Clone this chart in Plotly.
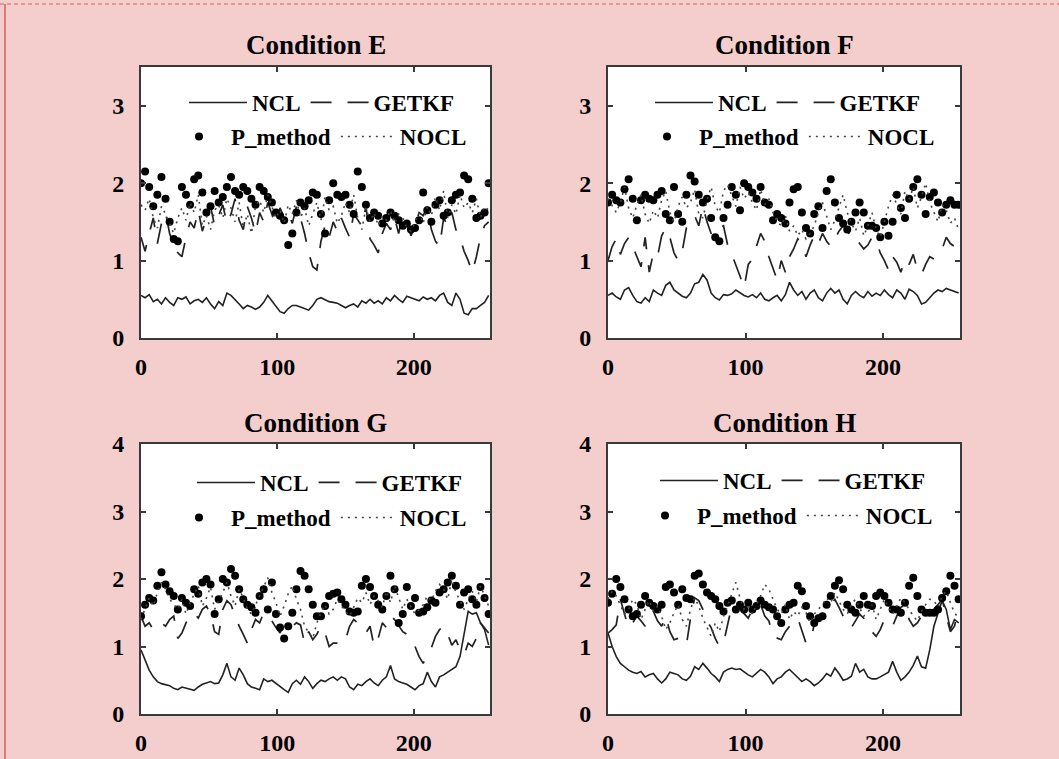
import plotly.graph_objects as go

# ---------------------------------------------------------------------------
# Data: RMSE-type error series, sampled every 3 steps over 0..255
# ---------------------------------------------------------------------------
steps = list(range(0, 256, 3))

# ---- Condition E ----
ncl_e = [0.55, 0.52, 0.56, 0.47, 0.50, 0.44, 0.52, 0.46, 0.42, 0.52,
         0.50, 0.53, 0.44, 0.48, 0.50, 0.46, 0.52, 0.44, 0.38, 0.47,
         0.42, 0.58, 0.55, 0.50, 0.44, 0.38, 0.42, 0.40, 0.37, 0.40,
         0.46, 0.55, 0.48, 0.40, 0.34, 0.32, 0.38, 0.42, 0.42, 0.40,
         0.38, 0.36, 0.42, 0.50, 0.52, 0.49, 0.47, 0.46, 0.45, 0.42,
         0.39, 0.42, 0.44, 0.40, 0.48, 0.45, 0.50, 0.45, 0.48, 0.44,
         0.52, 0.48, 0.55, 0.50, 0.46, 0.54, 0.52, 0.50, 0.48, 0.53,
         0.50, 0.52, 0.48, 0.55, 0.58, 0.46, 0.42, 0.58, 0.50, 0.32,
         0.30, 0.38, 0.38, 0.42, 0.46, 0.55]
getkf_e = [1.30, 1.12, 1.35, 1.55, 1.22, 1.48, 1.62, 1.35, 1.20, 1.10,
           1.05, 1.30, 1.50, 1.42, 1.65, 1.38, 1.55, 1.70, 1.45, 1.58,
           1.72, 1.48, 1.60, 1.80, 1.52, 1.40, 1.70, 1.55, 1.35, 1.62,
           1.50, 1.75, 1.60, 1.45, 1.68, 1.55, 1.62, 1.48, 1.70, 1.55,
           1.35, 1.10, 0.92, 0.88, 1.25, 1.45, 1.30, 1.50, 1.38, 1.55,
           1.42, 1.30, 1.60, 1.52, 1.45, 1.70, 1.28, 1.20, 1.10, 1.35,
           1.48, 1.40, 1.55, 1.35, 1.60, 1.50, 1.32, 1.45, 1.62, 1.58,
           1.70, 1.40, 1.25, 1.18, 1.55, 1.45, 1.62, 1.40, 1.30, 1.12,
           1.00, 0.85, 1.05, 1.30, 1.45, 1.50]
p_method_e = [2.00, 2.15, 1.95, 1.70, 1.85, 2.08, 1.80, 1.50, 1.28, 1.25,
              1.95, 1.85, 1.72, 2.05, 2.10, 1.88, 1.62, 1.70, 1.90, 1.75,
              1.82, 1.95, 2.08, 1.90, 1.85, 1.95, 1.90, 1.80, 1.72, 1.95,
              1.90, 1.82, 1.75, 1.62, 1.58, 1.52, 1.20, 1.35, 1.62, 1.75,
              1.70, 1.78, 1.88, 1.85, 1.60, 1.35, 1.78, 2.00, 1.85, 1.82,
              1.85, 1.72, 1.60, 2.15, 1.95, 1.72, 1.55, 1.62, 1.58, 1.48,
              1.55, 1.62, 1.58, 1.52, 1.45, 1.48, 1.40, 1.42, 1.52, 1.88,
              1.65, 1.50, 1.72, 1.78, 1.58, 1.62, 1.78, 1.85, 1.88, 2.10,
              2.05, 1.80, 1.55, 1.58, 1.62, 2.00]
nocl_e = [1.72, 1.65, 1.80, 1.55, 1.42, 1.70, 1.60, 1.48, 1.35, 1.55,
          1.68, 1.52, 1.75, 1.62, 1.85, 1.45, 1.58, 1.40, 1.65, 1.72,
          1.55, 1.80, 1.68, 1.50, 1.75, 1.42, 1.60, 1.35, 1.70, 1.78,
          1.62, 1.85, 1.70, 1.55, 1.65, 1.48, 1.72, 1.60, 1.78, 1.55,
          1.68, 1.45, 1.60, 1.75, 1.52, 1.82, 1.65, 1.70, 1.48, 1.58,
          1.75, 1.62, 1.85, 1.55, 1.40, 1.68, 1.50, 1.62, 1.45, 1.58,
          1.52, 1.65, 1.48, 1.60, 1.55, 1.42, 1.38, 1.50, 1.62, 1.48,
          1.70, 1.58, 1.82, 1.65, 1.90, 1.55, 1.72, 1.60, 1.85, 1.68,
          1.75, 1.62, 1.80, 1.55, 1.70, 1.65]

# ---- Condition F ----
ncl_f = [0.55, 0.58, 0.53, 0.50, 0.62, 0.65, 0.55, 0.47, 0.45, 0.52,
         0.47, 0.62, 0.58, 0.55, 0.68, 0.72, 0.62, 0.58, 0.54, 0.52,
         0.58, 0.70, 0.72, 0.82, 0.75, 0.58, 0.52, 0.49, 0.56, 0.55,
         0.57, 0.62, 0.58, 0.55, 0.53, 0.56, 0.52, 0.58, 0.50, 0.48,
         0.52, 0.55, 0.48, 0.56, 0.72, 0.62, 0.55, 0.60, 0.50, 0.58,
         0.62, 0.52, 0.48, 0.58, 0.64, 0.58, 0.62, 0.50, 0.44, 0.55,
         0.60, 0.55, 0.52, 0.60, 0.54, 0.58, 0.55, 0.62, 0.56, 0.52,
         0.62, 0.58, 0.50, 0.63, 0.60, 0.55, 0.44, 0.46, 0.52, 0.58,
         0.62, 0.60, 0.64, 0.62, 0.60, 0.58]
getkf_f = [1.00, 1.18, 1.28, 1.08, 1.22, 1.30, 1.18, 1.05, 0.92, 1.30,
           0.85, 1.10, 1.05, 1.32, 1.42, 1.30, 1.10, 1.00, 1.12, 1.42,
           1.50, 1.58, 1.45, 1.70, 1.50, 1.35, 1.32, 1.42, 1.45, 1.20,
           1.08, 0.95, 0.80, 0.65, 0.95, 1.02, 1.18, 1.35, 1.25, 1.05,
           0.90, 0.75, 1.00, 0.85, 1.05, 1.15, 1.28, 1.22, 1.05, 1.20,
           1.32, 1.22, 1.35, 1.25, 1.18, 1.28, 1.38, 1.45, 1.40, 1.28,
           1.30, 1.22, 1.15, 1.20, 1.30, 1.25, 1.10, 1.00, 0.88, 1.05,
           0.98, 0.85, 1.02, 0.95, 1.08, 0.88, 0.82, 0.95, 1.05, 1.02,
           1.08, 1.15, 1.30, 1.22, 1.18, 1.25]
p_method_f = [1.75, 1.85, 1.78, 1.75, 1.92, 2.05, 1.80, 1.52, 1.78, 1.85,
              1.80, 1.78, 1.85, 1.90, 1.60, 1.52, 1.95, 1.60, 1.50, 1.85,
              2.10, 2.02, 1.85, 1.75, 1.80, 1.55, 1.30, 1.25, 1.55, 1.72,
              1.95, 1.85, 1.65, 2.00, 1.95, 1.88, 1.80, 1.95, 1.75, 1.72,
              1.52, 1.60, 1.55, 1.48, 1.75, 1.92, 1.95, 1.62, 1.42, 1.35,
              1.60, 1.70, 1.42, 1.90, 2.05, 1.75, 1.55, 1.48, 1.40, 1.50,
              1.62, 1.75, 1.62, 1.45, 1.45, 1.42, 1.30, 1.50, 1.32, 1.50,
              1.85, 1.68, 1.55, 1.80, 1.95, 2.05, 1.85, 1.60, 1.82, 1.88,
              1.75, 1.62, 1.72, 1.78, 1.72, 1.72]
nocl_f = [1.80, 1.70, 1.62, 1.75, 1.95, 1.68, 1.55, 1.72, 1.85, 1.60,
          1.48, 1.65, 1.55, 1.78, 1.90, 1.62, 1.50, 1.70, 1.82, 1.68,
          1.75, 1.92, 1.60, 1.55, 1.78, 1.95, 1.70, 1.62, 1.90, 1.98,
          1.85, 1.70, 1.95, 1.80, 1.88, 1.75, 1.65, 1.92, 1.72, 1.80,
          1.62, 1.50, 1.45, 1.58, 1.38, 1.45, 1.32, 1.40, 1.28, 1.35,
          1.45, 1.62, 1.75, 1.58, 1.40, 1.52, 1.70, 1.85, 1.62, 1.48,
          1.38, 1.55, 1.32, 1.45, 1.62, 1.40, 1.30, 1.52, 1.70, 1.85,
          1.72, 1.60, 1.90, 1.78, 1.95, 1.68, 1.82, 2.00, 1.75, 1.62,
          1.50, 1.72, 1.65, 1.48, 1.55, 1.40]

# ---- Condition G ----
ncl_g = [0.95, 0.80, 0.65, 0.55, 0.48, 0.45, 0.43, 0.42, 0.38, 0.36,
         0.40, 0.38, 0.36, 0.35, 0.40, 0.44, 0.46, 0.48, 0.45, 0.46,
         0.58, 0.75, 0.55, 0.50, 0.68, 0.58, 0.45, 0.40, 0.38, 0.36,
         0.52, 0.48, 0.50, 0.45, 0.40, 0.36, 0.32, 0.45, 0.50, 0.44,
         0.55, 0.48, 0.38, 0.45, 0.50, 0.48, 0.52, 0.55, 0.50, 0.55,
         0.52, 0.40, 0.36, 0.44, 0.42, 0.48, 0.52, 0.46, 0.42, 0.50,
         0.55, 0.72, 0.52, 0.48, 0.46, 0.44, 0.40, 0.36, 0.42, 0.45,
         0.62, 0.48, 0.40, 0.55, 0.58, 0.62, 0.65, 0.70, 0.85, 1.20,
         1.52, 1.48, 1.50, 1.35, 1.25, 1.02]
getkf_g = [1.45, 1.30, 1.35, 1.25, 1.30, 1.35, 1.30, 1.40, 1.45, 1.12,
           1.20, 1.35, 1.45, 1.50, 1.42, 1.55, 1.60, 1.48, 1.22, 1.18,
           1.55, 1.68, 1.62, 1.45, 1.30, 1.18, 1.05, 1.25, 1.40, 1.35,
           1.50, 1.45, 1.38, 1.28, 1.20, 1.35, 1.35, 1.30, 1.35, 1.32,
           1.05, 1.22, 1.10, 1.18, 1.30, 1.20, 1.00, 1.05, 1.05, 1.02,
           1.10, 1.30, 1.40, 1.35, 1.28, 1.20, 1.30, 1.00, 1.12, 1.35,
           1.28, 1.45, 1.40, 1.30, 1.22, 1.18, 1.15, 1.00, 0.85, 0.75,
           0.88, 0.98, 1.15, 1.25, 1.30, 1.18, 1.02, 1.10, 0.95, 0.88,
           1.05, 1.00, 1.12, 1.35, 1.28, 1.20]
p_method_g = [1.45, 1.62, 1.72, 1.68, 1.90, 2.10, 1.92, 1.82, 1.75, 1.55,
              1.72, 1.65, 1.60, 1.85, 1.78, 1.95, 2.00, 1.92, 1.48, 1.70,
              2.00, 1.95, 2.15, 2.05, 1.85, 1.70, 1.62, 1.58, 1.50, 1.75,
              1.85, 1.55, 1.95, 1.48, 1.28, 1.12, 1.30, 1.50, 1.85, 2.12,
              2.05, 1.85, 1.62, 1.45, 1.45, 1.60, 1.75, 1.78, 1.80, 1.70,
              1.62, 1.52, 1.50, 1.52, 1.90, 2.00, 1.88, 1.75, 1.62, 1.55,
              1.75, 2.05, 1.85, 1.35, 1.48, 1.88, 1.60, 1.72, 1.50, 1.52,
              1.58, 1.68, 1.65, 1.80, 1.85, 1.95, 2.05, 1.90, 1.62, 1.80,
              1.85, 1.70, 1.62, 1.88, 1.72, 1.48]
nocl_g = [1.40, 1.55, 1.72, 1.60, 1.80, 1.95, 1.85, 1.70, 1.62, 1.55,
          1.70, 1.48, 1.65, 1.78, 1.90, 1.60, 1.72, 1.88, 1.55, 1.68,
          1.80, 1.95, 1.75, 1.60, 1.85, 1.72, 1.55, 1.48, 1.62, 1.75,
          1.88, 2.02, 1.80, 1.65, 1.45, 1.60, 1.78, 1.90, 1.70, 1.55,
          1.30, 1.20, 1.12, 1.35, 1.50, 1.62, 1.48, 1.55, 1.70, 1.60,
          1.52, 1.45, 1.58, 1.72, 1.65, 1.80, 1.62, 1.75, 1.68, 1.58,
          1.82, 1.65, 1.90, 1.72, 1.55, 1.70, 1.60, 1.48, 1.55, 1.62,
          1.75, 1.68, 1.82, 1.92, 1.85, 1.70, 2.00, 1.80, 1.68, 1.55,
          1.70, 1.82, 1.65, 1.90, 1.75, 1.60]

# ---- Condition H ----
ncl_h = [1.20, 1.00, 0.85, 0.75, 0.70, 0.65, 0.62, 0.60, 0.63, 0.55,
         0.58, 0.60, 0.52, 0.46, 0.52, 0.62, 0.60, 0.58, 0.52, 0.50,
         0.56, 0.70, 0.66, 0.75, 0.68, 0.60, 0.55, 0.48, 0.62, 0.66,
         0.68, 0.66, 0.67, 0.62, 0.58, 0.55, 0.60, 0.66, 0.62, 0.55,
         0.45, 0.52, 0.55, 0.62, 0.66, 0.60, 0.55, 0.48, 0.52, 0.48,
         0.42, 0.46, 0.52, 0.60, 0.56, 0.68, 0.60, 0.50, 0.52, 0.56,
         0.75, 0.62, 0.66, 0.55, 0.52, 0.52, 0.55, 0.58, 0.62, 0.78,
         0.62, 0.50, 0.55, 0.62, 0.72, 0.86, 0.70, 0.68, 0.95, 1.30,
         1.50, 1.68, 1.55, 1.25, 1.40, 1.35]
getkf_h = [1.20, 1.25, 1.32, 1.70, 1.48, 1.28, 1.35, 1.45, 1.38, 1.30,
           1.45, 1.52, 1.38, 1.30, 1.45, 1.22, 1.10, 1.12, 1.05, 1.02,
           1.42, 1.72, 1.68, 1.55, 1.38, 1.28, 1.12, 1.00, 1.05, 1.32,
           1.60, 1.62, 1.55, 1.48, 1.42, 1.55, 1.58, 1.62, 1.45, 1.38,
           1.15, 1.12, 1.10, 1.22, 1.30, 1.38, 1.42, 1.25, 1.05, 1.08,
           1.32, 1.40, 1.48, 1.55, 1.62, 1.70, 1.58, 1.45, 1.32, 1.28,
           1.38, 1.48, 1.42, 1.30, 1.22, 1.15, 1.25, 1.40, 1.35, 1.30,
           1.45, 1.58, 1.62, 1.40, 1.30, 1.35, 1.45, 1.50, 1.52, 1.55,
           1.62, 1.70, 1.45, 1.22, 1.30, 1.58]
p_method_h = [1.65, 1.78, 2.00, 1.88, 1.70, 1.55, 1.45, 1.48, 1.62, 1.75,
              1.65, 1.60, 1.55, 1.62, 1.88, 1.92, 1.80, 1.62, 1.85, 1.72,
              1.70, 2.05, 2.08, 1.92, 1.80, 1.75, 1.70, 1.60, 1.52, 1.65,
              1.68, 1.55, 1.62, 1.55, 1.65, 1.55, 1.60, 1.68, 1.62, 1.58,
              1.55, 1.45, 1.35, 1.55, 1.62, 1.65, 1.90, 1.82, 1.60, 1.45,
              1.35, 1.42, 1.45, 1.62, 1.75, 1.90, 1.98, 1.85, 1.62, 1.55,
              1.50, 1.62, 1.75, 1.62, 1.60, 1.75, 1.80, 1.75, 1.65, 1.55,
              1.55, 1.50, 1.65, 1.90, 2.02, 1.75, 1.55, 1.50, 1.50, 1.50,
              1.55, 1.72, 1.82, 2.05, 1.90, 1.70]
nocl_h = [1.70, 1.82, 1.75, 1.62, 1.48, 1.55, 1.70, 1.62, 1.40, 1.55,
          1.68, 1.52, 1.60, 1.45, 1.25, 1.35, 1.50, 1.62, 1.40, 1.30,
          1.55, 1.72, 1.60, 1.42, 1.28, 1.15, 1.35, 1.22, 1.45, 1.60,
          1.78, 1.95, 1.72, 1.55, 1.60, 1.48, 1.62, 1.75, 1.92, 1.85,
          1.70, 1.55, 1.48, 1.62, 1.40, 1.52, 1.45, 1.58, 1.50, 1.35,
          1.48, 1.55, 1.62, 1.72, 1.65, 1.80, 1.68, 1.55, 1.48, 1.62,
          1.70, 1.58, 1.45, 1.50, 1.62, 1.40, 1.55, 1.70, 1.58, 1.48,
          1.60, 1.72, 1.65, 1.55, 1.45, 1.38, 1.52, 1.62, 1.70, 1.68,
          1.58, 1.75, 1.82, 1.65, 1.50, 1.42]

panel_titles = ["Condition E", "Condition F", "Condition G", "Condition H"]
series_names = ["NCL", "GETKF", "P_method", "NOCL"]
x_ticks = [0, 100, 200]
y_ticks_top = [0, 1, 2, 3]
y_ticks_bottom = [0, 1, 2, 3, 4]

panel_series = [
    (ncl_e, getkf_e, p_method_e, nocl_e),
    (ncl_f, getkf_f, p_method_f, nocl_f),
    (ncl_g, getkf_g, p_method_g, nocl_g),
    (ncl_h, getkf_h, p_method_h, nocl_h),
]

# ---------------------------------------------------------------------------
# Layout geometry (pixels of a 1059 x 759 canvas)
# ---------------------------------------------------------------------------
W, H = 1059, 759
SERIF = "Liberation Serif, Times New Roman, serif"
FRAME = "#3a3a3a"

# plot-area boxes: (left, right, top, bottom) in px
boxes = [(141, 490, 67, 338), (608, 960, 67, 338),
         (141, 490, 444, 714), (608, 960, 444, 714)]
y_ranges = [[0, 3.5], [0, 3.5], [0, 4], [0, 4]]
y_tick_sets = [y_ticks_top, y_ticks_top, y_ticks_bottom, y_ticks_bottom]
title_y = [45, 45, 423, 423]
# legend rows (left px, top px): first row NCL/GETKF, second row P_method/NOCL
legend_row1 = [(184, 81), (650, 81), (192, 461), (655, 459)]
legend_row2 = [(167, 115), (635, 115), (167, 496), (633, 494)]


def px_x(v):
    return v / W


def px_y(v):
    return 1 - v / H


legend_font = dict(family=SERIF, size=23, color="black", weight="bold")

fig = go.Figure()

for k in range(4):
    ncl, getkf, pm, nocl = panel_series[k]
    ax = "" if k == 0 else str(k + 1)
    xref, yref = "x" + ax, "y" + ax
    leg_a = "legend" if k == 0 else f"legend{2 * k + 1}"
    leg_b = f"legend{2 * k + 2}"

    fig.add_trace(go.Scatter(x=steps, y=ncl, name=series_names[0], mode="lines",
                             line=dict(color="#222222", width=1.6),
                             xaxis=xref, yaxis=yref, legend=leg_a))
    fig.add_trace(go.Scatter(x=steps, y=getkf, name=series_names[1], mode="lines",
                             line=dict(color="#222222", width=1.7, dash="21px,16px"),
                             xaxis=xref, yaxis=yref, legend=leg_a))
    fig.add_trace(go.Scatter(x=steps, y=pm, name=series_names[2], mode="markers",
                             marker=dict(color="#000000", size=8),
                             xaxis=xref, yaxis=yref, legend=leg_b))
    fig.add_trace(go.Scatter(x=steps, y=nocl, name=series_names[3], mode="lines",
                             line=dict(color="#444444", width=1.6, dash="2px,5px"),
                             xaxis=xref, yaxis=yref, legend=leg_b))

    left, right, top, bottom = boxes[k]
    axis_common = dict(showline=True, linecolor=FRAME, linewidth=2, mirror="ticks",
                       ticks="inside", ticklen=5, tickwidth=1.5, tickcolor=FRAME,
                       showgrid=False, zeroline=False, automargin=False,
                       tickfont=dict(family=SERIF, size=24, color="black", weight="bold"))
    row_common = dict(xanchor="left", yanchor="top", orientation="h",
                      bgcolor="rgba(0,0,0,0)", borderwidth=0, font=legend_font)
    fig.update_layout({
        "xaxis" + ax: dict(domain=[px_x(left), px_x(right)], range=[0, 256],
                           tickvals=x_ticks, anchor=yref, ticklabelstandoff=6,
                           **axis_common),
        "yaxis" + ax: dict(domain=[px_y(bottom), px_y(top)], range=y_ranges[k],
                           tickvals=y_tick_sets[k], anchor=xref, ticklabelstandoff=10,
                           **axis_common),
        leg_a: dict(x=px_x(legend_row1[k][0]), y=px_y(legend_row1[k][1]),
                    itemwidth=58, **row_common),
        leg_b: dict(x=px_x(legend_row2[k][0]), y=px_y(legend_row2[k][1]),
                    itemwidth=54, **row_common),
    })

    fig.add_annotation(text=panel_titles[k], xref="paper", yref="paper",
                       x=px_x((left + right) / 2), y=px_y(title_y[k]),
                       xanchor="center", yanchor="middle", showarrow=False,
                       font=dict(family=SERIF, size=27, color="black", weight="bold"))

# page border: dashed line along the top, solid line down the left edge
fig.add_shape(type="line", xref="paper", yref="paper",
              x0=0, x1=1, y0=px_y(4), y1=px_y(4),
              line=dict(color="#e05a5a", width=1, dash="4px,3px"))
fig.add_shape(type="line", xref="paper", yref="paper",
              x0=px_x(5), x1=px_x(5), y0=0, y1=px_y(4),
              line=dict(color="#e05a5a", width=1.5))

fig.update_layout(
    width=W, height=H,
    margin=dict(l=0, r=0, t=0, b=0, autoexpand=False),
    paper_bgcolor="#f4cdcd",
    plot_bgcolor="white",
    showlegend=True,
)

fig.write_html("out.html")
